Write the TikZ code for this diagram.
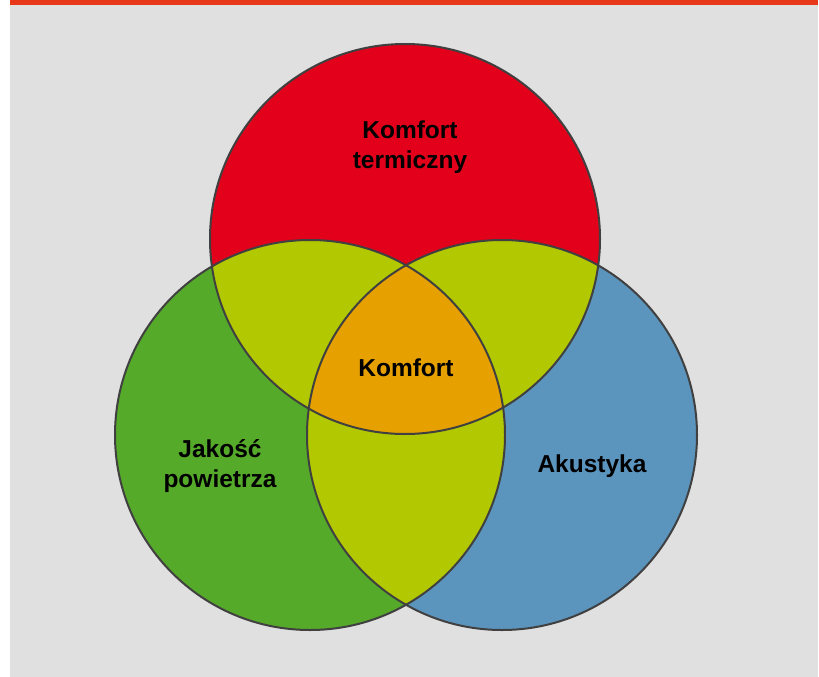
\documentclass[tikz,border=0pt]{standalone}
\usepackage{fontspec}
\setmainfont{Liberation Sans}

\definecolor{balken}{HTML}{E8381A}
\definecolor{grund}{HTML}{E0E0E0}
\definecolor{rot}{HTML}{E2001A}
\definecolor{gruen}{HTML}{56AA2A}
\definecolor{blau}{HTML}{5B95BE}
\definecolor{limone}{HTML}{B2C800}
\definecolor{orange}{HTML}{E6A100}
\definecolor{umriss}{HTML}{404040}

\begin{document}
\begin{tikzpicture}[x=1pt, y=-1pt,
    font=\fontsize{24.5}{30}\selectfont\bfseries,
    kreis/.style={circle, minimum size=390pt, inner sep=0pt},
    rand/.style={draw=umriss, line width=2pt}]
    % Hintergrund
    \useasboundingbox (0,0) rectangle (819,677);
    \fill[white] (0,0) rectangle (819,677);
    \fill[grund] (10,0) rectangle (818,677);
    \fill[balken] (10,0) rectangle (818,5);

    % Kreise
    \node[kreis, fill=rot] (thermik) at (405,239) {};
    \node[kreis, fill=gruen] (luft) at (310,435) {};
    \node[kreis, fill=blau] (akustik) at (502,435) {};

    % Schnittflaechen
    \begin{scope}
      \clip (thermik.center) circle (195pt);
      \fill[limone] (luft.center) circle (195pt);
      \fill[limone] (akustik.center) circle (195pt);
    \end{scope}
    \begin{scope}
      \clip (luft.center) circle (195pt);
      \fill[limone] (akustik.center) circle (195pt);
    \end{scope}
    \begin{scope}
      \clip (thermik.center) circle (195pt);
      \clip (luft.center) circle (195pt);
      \fill[orange] (akustik.center) circle (195pt);
    \end{scope}

    % Umrisse
    \foreach \k in {thermik, luft, akustik}
      \draw[rand] (\k.center) circle (195pt);

    % Beschriftung
    \node[align=center] (termisch) at (410,147) {Komfort\\termiczny};
    \node (komfort) at (406,368) {Komfort};
    \node[align=center] (powietrze) at (220,466) {Jakość\\powietrza};
    \node (akustyka) at (592,466) {Akustyka};
  \end{tikzpicture}
\end{document}
